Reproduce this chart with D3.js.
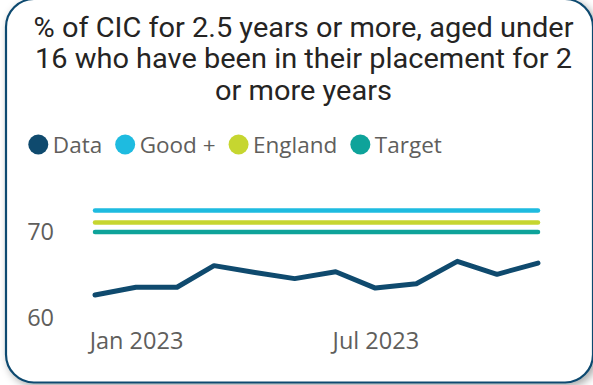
<!DOCTYPE html>
<html><head><meta charset="utf-8">
<script src="https://cdn.jsdelivr.net/npm/d3@7"></script>
<style>html,body{margin:0;padding:0;background:#fff;}svg{display:block;}</style>
</head><body>
<svg id="c" width="593" height="385"></svg>
<script>
const titleLines = ["% of CIC for 2.5 years or more, aged under", "16 who have been in their placement for 2", "or more years"];
const months = ["2022-12","2023-01","2023-02","2023-03","2023-04","2023-05","2023-06","2023-07","2023-08","2023-09","2023-10","2023-11"];
const dataValues = [62.7, 63.6, 63.6, 66.1, 65.3, 64.6, 65.4, 63.5, 64.0, 66.6, 65.1, 66.4];
const goodValue = 72.5;
const englandValue = 71.1;
const targetValue = 70.0;
const yTicks = [60, 70];
const xTickLabels = ["2023-01", "2023-07"];
const seriesNames = ["Data", "Good +", "England", "Target"];
const seriesColors = ["#0f4a6e", "#1ebbe0", "#c6d630", "#0ea39a"];

const svg = d3.select("#c");
const parse = d3.timeParse("%Y-%m");
const dates = months.map(parse);
const labelFont = "'Segoe UI','Open Sans',sans-serif";

// card shadow + card
const defs = svg.append("defs");
const f = defs.append("filter").attr("id","sh").attr("x","-10%").attr("y","-10%").attr("width","120%").attr("height","120%");
f.append("feDropShadow").attr("dx",3).attr("dy",3).attr("stdDeviation",4).attr("flood-color","#000").attr("flood-opacity",0.35);
svg.append("rect").attr("x",6).attr("y",-1).attr("width",587).attr("height",383.5).attr("rx",28).attr("ry",28)
  .attr("fill","#fff").attr("stroke","#0e4a6f").attr("stroke-width",2.2).attr("filter","url(#sh)");

// title
const tt = svg.append("g").selectAll("text").data(titleLines).join("text")
  .attr("x", 303.5).attr("y",(d,i)=>36.7 + i*31.7)
  .attr("text-anchor","middle")
  .attr("font-family","Roboto, 'DejaVu Sans', sans-serif")
  .attr("font-size",28).attr("fill","#252423")
  .text(d=>d);
const w0 = tt.nodes()[0].getComputedTextLength();
const k = 540 / w0;
tt.each(function(){ const w = this.getComputedTextLength(); d3.select(this).attr("textLength", w*k).attr("lengthAdjust","spacingAndGlyphs"); });

// legend
const legend = svg.append("g").attr("transform","translate(0,144.5)");
let lx = 28.3;
seriesNames.forEach((n,i)=>{
  const g = legend.append("g").attr("transform",`translate(${lx},0)`);
  g.append("circle").attr("cx",10).attr("cy",0).attr("r",10).attr("fill",seriesColors[i]);
  const t = g.append("text").attr("x",24.5).attr("y",8).attr("font-family",labelFont)
    .attr("font-size",22.5).attr("fill","#605e5c").text(n);
  const w = t.node().getComputedTextLength();
  lx += 24.5 + w + 13;
});

// scales
const x = d3.scaleTime().domain([dates[0], dates[dates.length-1]]).range([95, 538]);
const y = d3.scaleLinear().domain([60, 70]).range([318.3, 232]);

// y axis labels
const yAxis = d3.axisLeft(y).tickValues(yTicks).tickSize(0).tickPadding(0);
const ya = svg.append("g").attr("transform","translate(54,0)").call(yAxis);
ya.select(".domain").remove();
ya.selectAll("text").attr("font-family",labelFont).attr("font-size",23.5).attr("fill","#605e5c");

// x axis labels
const xAxis = d3.axisBottom(x).tickValues(xTickLabels.map(parse)).tickFormat(d3.timeFormat("%b %Y")).tickSize(0).tickPadding(0);
const xa = svg.append("g").attr("transform","translate(0,332)").call(xAxis);
xa.select(".domain").remove();
xa.selectAll("text").attr("font-family",labelFont).attr("font-size",23.5).attr("fill","#605e5c");

// reference lines
const refs = [[goodValue,1],[englandValue,2],[targetValue,3]];
const line = d3.line().x(d=>x(d[0])).y(d=>y(d[1]));
refs.forEach(([v,ci])=>{
  svg.append("path").datum(dates.map(d=>[d,v])).attr("d",line)
    .attr("fill","none").attr("stroke",seriesColors[ci]).attr("stroke-width",4.5).attr("stroke-linecap","round");
});
svg.append("path").datum(dates.map((d,i)=>[d,dataValues[i]])).attr("d",line)
  .attr("fill","none").attr("stroke",seriesColors[0]).attr("stroke-width",5).attr("stroke-linejoin","round").attr("stroke-linecap","round");
</script>
</body></html>
